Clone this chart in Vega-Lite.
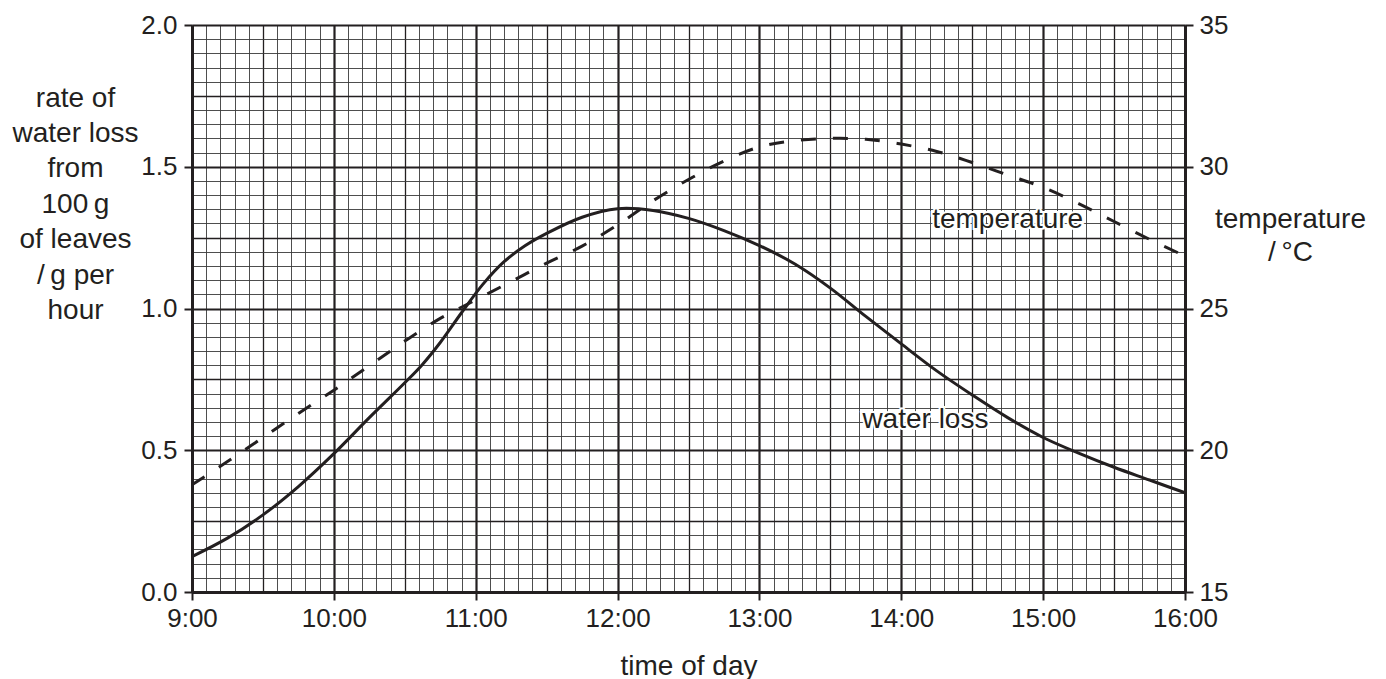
{
  "$schema": "https://vega.github.io/schema/vega-lite/v6.json",
  "width": 993,
  "height": 567,
  "autosize": {"type": "none"},
  "padding": {"left": 192, "top": 25, "right": 201, "bottom": 87},
  "background": "white",
  "config": {"view": {"stroke": null}},
  "datasets": {
    "water": [
      {"time": 9.0, "rate": 0.125}, {"time": 9.25, "rate": 0.19}, {"time": 9.5, "rate": 0.272}, {"time": 9.75, "rate": 0.372},
      {"time": 10.0, "rate": 0.488}, {"time": 10.25, "rate": 0.615}, {"time": 10.5, "rate": 0.738}, {"time": 10.62, "rate": 0.8},
      {"time": 10.75, "rate": 0.88}, {"time": 10.9, "rate": 0.985}, {"time": 11.05, "rate": 1.085}, {"time": 11.2, "rate": 1.165},
      {"time": 11.35, "rate": 1.222}, {"time": 11.5, "rate": 1.265}, {"time": 11.75, "rate": 1.322}, {"time": 12.0, "rate": 1.352},
      {"time": 12.25, "rate": 1.346}, {"time": 12.5, "rate": 1.318}, {"time": 12.75, "rate": 1.275}, {"time": 13.0, "rate": 1.222},
      {"time": 13.25, "rate": 1.157}, {"time": 13.5, "rate": 1.072}, {"time": 13.75, "rate": 0.972}, {"time": 14.0, "rate": 0.875},
      {"time": 14.25, "rate": 0.78}, {"time": 14.5, "rate": 0.695}, {"time": 14.75, "rate": 0.615}, {"time": 15.0, "rate": 0.545},
      {"time": 15.25, "rate": 0.49}, {"time": 15.5, "rate": 0.44}, {"time": 15.75, "rate": 0.395}, {"time": 16.0, "rate": 0.35}
    ],
    "temp": [
      {"time": 9.0, "temp": 18.78}, {"time": 9.25, "temp": 19.6}, {"time": 9.5, "temp": 20.45}, {"time": 9.75, "temp": 21.3},
      {"time": 10.0, "temp": 22.12}, {"time": 10.25, "temp": 22.98}, {"time": 10.5, "temp": 23.85}, {"time": 10.75, "temp": 24.65},
      {"time": 11.0, "temp": 25.3}, {"time": 11.25, "temp": 25.95}, {"time": 11.5, "temp": 26.6}, {"time": 11.75, "temp": 27.2},
      {"time": 12.0, "temp": 27.95}, {"time": 12.25, "temp": 28.8}, {"time": 12.5, "temp": 29.55}, {"time": 12.75, "temp": 30.2},
      {"time": 13.0, "temp": 30.7}, {"time": 13.25, "temp": 30.92}, {"time": 13.5, "temp": 31.0}, {"time": 13.75, "temp": 30.97},
      {"time": 14.0, "temp": 30.8}, {"time": 14.25, "temp": 30.54}, {"time": 14.5, "temp": 30.15}, {"time": 14.75, "temp": 29.71},
      {"time": 15.0, "temp": 29.27}, {"time": 15.25, "temp": 28.7}, {"time": 15.5, "temp": 28.07}, {"time": 15.75, "temp": 27.44},
      {"time": 16.0, "temp": 26.85}
    ],
    "labels": [
      {"label": "temperature", "time": 14.75, "rate": 1.283},
      {"label": "water loss", "time": 14.17, "rate": 0.578}
    ]
  },
  "encoding": {
    "x": {
      "field": "time",
      "type": "quantitative",
      "scale": {"domain": [9, 16], "nice": false, "zero": false},
      "axis": {
        "orient": "bottom",
        "values": [9,9.1,9.2,9.3,9.4,9.5,9.6,9.7,9.8,9.9,10,10.1,10.2,10.3,10.4,10.5,10.6,10.7,10.8,10.9,11,11.1,11.2,11.3,11.4,11.5,11.6,11.7,11.8,11.9,12,12.1,12.2,12.3,12.4,12.5,12.6,12.7,12.8,12.9,13,13.1,13.2,13.3,13.4,13.5,13.6,13.7,13.8,13.9,14,14.1,14.2,14.3,14.4,14.5,14.6,14.7,14.8,14.9,15,15.1,15.2,15.3,15.4,15.5,15.6,15.7,15.8,15.9,16],
        "title": "time of day",
        "titleFont": "Liberation Sans",
        "titleFontSize": 28,
        "titleFontWeight": "normal",
        "titleColor": "#231f20",
        "titleBaseline": "alphabetic",
        "titleY": 82,
        "labelExpr": "abs(datum.value - round(datum.value)) < 0.001 ? round(datum.value) + ':00' : ''",
        "labelFont": "Liberation Sans",
        "labelFontSize": 26,
        "labelColor": "#231f20",
        "labelPadding": 5,
        "labelOverlap": false,
        "labelFlush": false,
        "labelBound": false,
        "tickSize": 8,
        "tickWidth": 2,
        "tickColor": "#231f20",
        "tickOpacity": {"condition": {"test": "abs(datum.value - round(datum.value)) < 0.001", "value": 1}, "value": 0},
        "grid": true,
        "gridOpacity": 1,
        "gridColor": {"condition": {"test": "abs(datum.value*2 - round(datum.value*2)) < 0.001", "value": "#231f20"}, "value": "#3a3a3a"},
        "gridWidth": {"condition": [{"test": "abs(datum.value - round(datum.value)) < 0.001", "value": 2.2}, {"test": "abs(datum.value*2 - round(datum.value*2)) < 0.001", "value": 1.3}], "value": 0.9},
        "domain": true,
        "domainColor": "#231f20",
        "domainWidth": 3
      }
    }
  },
  "layer": [
    {
      "data": {"name": "water"},
      "mark": {"type": "line", "interpolate": "catmull-rom", "stroke": "#231f20", "strokeWidth": 3},
      "encoding": {
        "y": {
          "field": "rate",
          "type": "quantitative",
          "scale": {"domain": [0, 2], "nice": false, "zero": false},
          "axis": {
            "orient": "left",
            "values": [0,0.05,0.1,0.15,0.2,0.25,0.3,0.35,0.4,0.45,0.5,0.55,0.6,0.65,0.7,0.75,0.8,0.85,0.9,0.95,1,1.05,1.1,1.15,1.2,1.25,1.3,1.35,1.4,1.45,1.5,1.55,1.6,1.65,1.7,1.75,1.8,1.85,1.9,1.95,2],
            "title": ["rate of", "water loss", "from", "100\u2009g", "of leaves", "/\u2009g per", "hour"],
            "titleFont": "Liberation Sans",
            "titleFontSize": 28,
            "titleFontWeight": "normal",
            "titleColor": "#231f20",
            "titleAngle": 0,
            "titleAlign": "center",
            "titleBaseline": "alphabetic",
            "titleLineHeight": 35.4,
            "titleX": -117,
            "titleY": 81,
            "labelExpr": "abs(datum.value*2 - round(datum.value*2)) < 0.001 ? format(datum.value, '.1f') : ''",
            "labelFont": "Liberation Sans",
            "labelFontSize": 26,
            "labelColor": "#231f20",
            "labelPadding": 7,
            "labelOverlap": false,
            "labelFlush": false,
            "labelBound": false,
            "tickSize": 8,
            "tickWidth": 2,
            "tickColor": "#231f20",
            "tickOpacity": {"condition": {"test": "abs(datum.value*2 - round(datum.value*2)) < 0.001", "value": 1}, "value": 0},
            "grid": true,
            "gridOpacity": 1,
            "gridColor": {"condition": {"test": "abs(datum.value*4 - round(datum.value*4)) < 0.001", "value": "#231f20"}, "value": "#3a3a3a"},
            "gridWidth": {"condition": [{"test": "abs(datum.value*2 - round(datum.value*2)) < 0.001", "value": 2.2}, {"test": "abs(datum.value*4 - round(datum.value*4)) < 0.001", "value": 1.3}], "value": 0.9},
            "domain": true,
            "domainColor": "#231f20",
            "domainWidth": 3
          }
        }
      }
    },
    {
      "data": {"name": "temp"},
      "mark": {"type": "line", "interpolate": "catmull-rom", "stroke": "#231f20", "strokeWidth": 3, "strokeDash": [15, 17]},
      "encoding": {
        "y": {
          "field": "temp",
          "type": "quantitative",
          "scale": {"domain": [15, 35], "nice": false, "zero": false},
          "axis": {
            "orient": "right",
            "values": [15, 20, 25, 30, 35],
            "title": ["temperature", "/\u2009°C"],
            "titleFont": "Liberation Sans",
            "titleFontSize": 28,
            "titleFontWeight": "normal",
            "titleColor": "#231f20",
            "titleAngle": 0,
            "titleAlign": "center",
            "titleBaseline": "alphabetic",
            "titleLineHeight": 33.5,
            "titleX": 105,
            "titleY": 202,
            "labelFont": "Liberation Sans",
            "labelFontSize": 26,
            "labelColor": "#231f20",
            "labelPadding": 6,
            "labelOverlap": false,
            "labelFlush": false,
            "labelBound": false,
            "tickSize": 8,
            "tickWidth": 2,
            "tickColor": "#231f20",
            "grid": false,
            "domain": true,
            "domainColor": "#231f20",
            "domainWidth": 3
          }
        }
      }
    },
    {
      "data": {"name": "labels"},
      "mark": {"type": "text", "font": "Liberation Sans", "fontSize": 28, "align": "center", "baseline": "alphabetic", "fill": "white", "stroke": "white", "strokeWidth": 4},
      "encoding": {
        "y": {"field": "rate", "type": "quantitative", "scale": {"domain": [0, 2], "nice": false, "zero": false}, "axis": null},
        "text": {"field": "label"}
      }
    },
    {
      "data": {"name": "labels"},
      "mark": {"type": "text", "font": "Liberation Sans", "fontSize": 28, "align": "center", "baseline": "alphabetic", "fill": "#231f20"},
      "encoding": {
        "y": {"field": "rate", "type": "quantitative", "scale": {"domain": [0, 2], "nice": false, "zero": false}, "axis": null},
        "text": {"field": "label"}
      }
    }
  ],
  "resolve": {"scale": {"y": "independent"}, "axis": {"y": "independent"}}
}
